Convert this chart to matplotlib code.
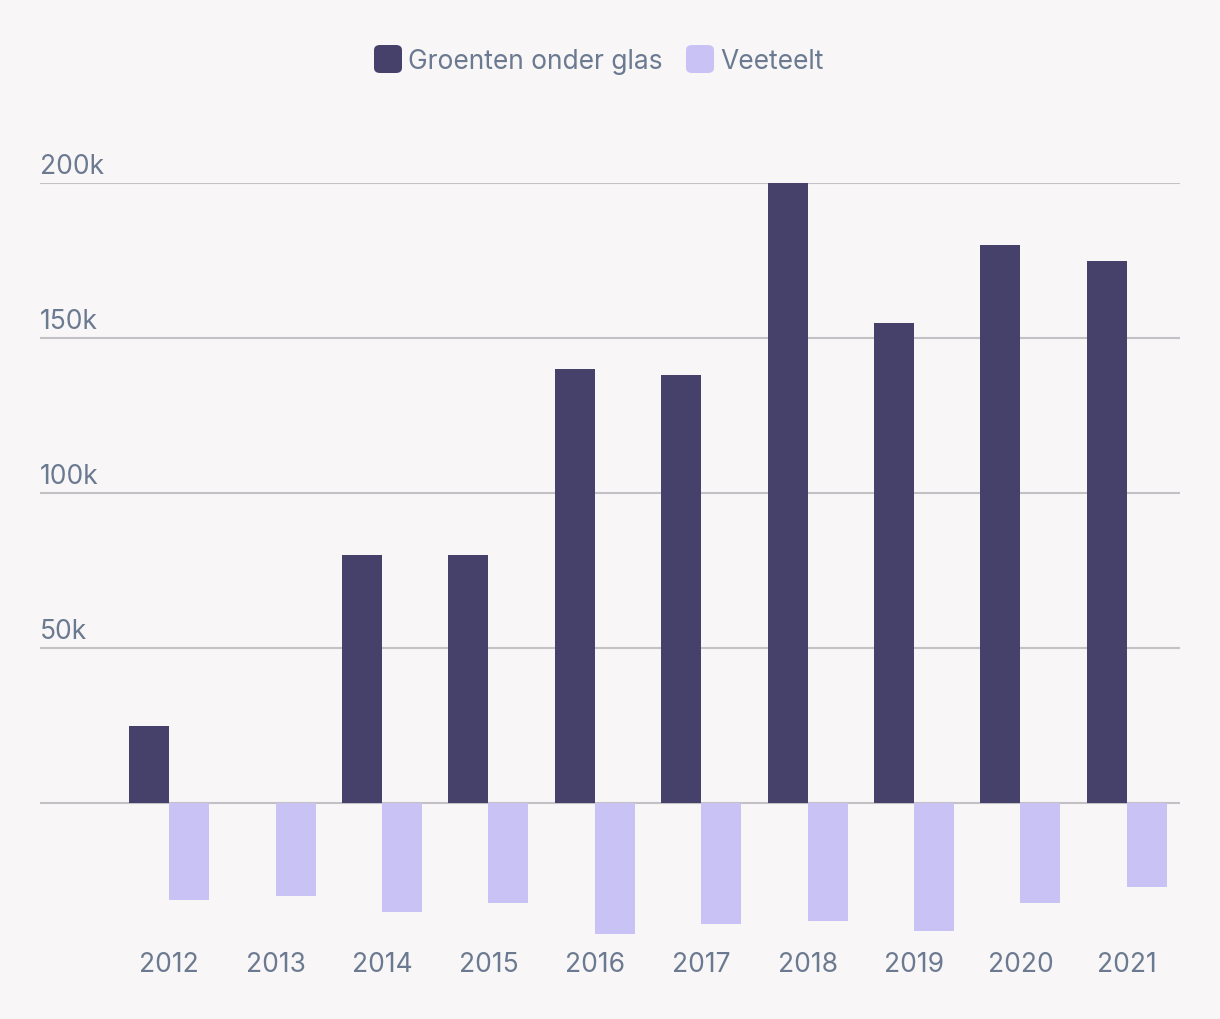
import matplotlib
matplotlib.use("Agg")
import matplotlib.pyplot as plt
from matplotlib.patches import FancyBboxPatch
from matplotlib.transforms import ScaledTranslation
import numpy as np

years = ["2012", "2013", "2014", "2015", "2016", "2017", "2018", "2019", "2020", "2021"]
groenten = [25000, 0, 80000, 80000, 140000, 138000, 200000, 155000, 180000, 175000]
veeteelt = [-31000, -30000, -35000, -32000, -42000, -39000, -38000, -41000, -32000, -27000]
yticks = [0, 50000, 100000, 150000, 200000]
ytick_labels = ["", "50k", "100k", "150k", "200k"]
series_names = ["Groenten onder glas", "Veeteelt"]

BG = "#F8F6F7"
DARK = "#45416B"
LIGHT = "#C9C3F5"
TXT = "#6B7A90"
GRID = "#C3C1C6"
FONT = "Inter"

W, H = 1220, 1020
fig = plt.figure(figsize=(W / 100, H / 100), dpi=100, facecolor=BG)

left, right = 40, 1180
top, bottom = 184, 944
ax = fig.add_axes([left / W, (H - bottom) / H, (right - left) / W, (bottom - top) / H])
ax.set_facecolor(BG)

x = np.arange(len(years))
w = 0.376
ax.bar(x - w / 2, groenten, width=w, color=DARK, zorder=3)
ax.bar(x + w / 2, veeteelt, width=w, color=LIGHT, zorder=3)

ax.set_xlim(-0.5 - 76 / 106.4, 9.5)
ax.set_ylim(-45000, 200000)

for v in yticks:
    ax.axhline(v, color=GRID, lw=1.5, zorder=1)

ax.set_yticks([])
ax.set_xticks(x)
ax.set_xticklabels(years, fontsize=19, color=TXT, family=FONT)
ax.tick_params(axis="x", length=0, pad=6)
for s in ax.spines.values():
    s.set_visible(False)

offs = ScaledTranslation(0, 10 / 100, fig.dpi_scale_trans)
for v, lab in zip(yticks, ytick_labels):
    if lab:
        ax.text(0, v, lab, transform=ax.get_yaxis_transform() + offs,
                ha="left", va="baseline", fontsize=19, color=TXT, family=FONT)

# legend
def px(xp, yp):
    return xp / W, 1 - yp / H

for xs, col, name, tx in [(374, DARK, series_names[0], 408), (686, LIGHT, series_names[1], 720)]:
    x0, y0 = px(xs, 74)
    p = FancyBboxPatch((x0, y0), 28 / W, 28 / H, boxstyle="round,pad=0,rounding_size=0.005",
                       transform=fig.transFigure, facecolor=col, edgecolor="none")
    fig.patches.append(p)
    tx0, ty0 = px(tx, 62)
    fig.text(tx0, ty0, name, ha="left", va="center", fontsize=19, color=TXT, family=FONT)

fig.savefig("out.png", dpi=100, facecolor=BG)
